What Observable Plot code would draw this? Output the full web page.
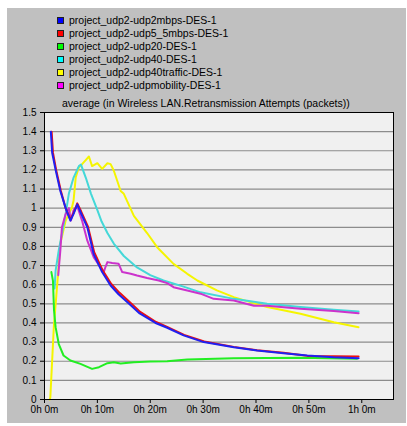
<!DOCTYPE html>
<html>
<head>
<meta charset="utf-8">
<script src="https://cdn.jsdelivr.net/npm/d3@7"></script>
<script src="https://cdn.jsdelivr.net/npm/@observablehq/plot@0.6"></script>
<style>
  html, body { margin: 0; padding: 0; background: #ffffff; }
  #page { position: relative; width: 407px; height: 426px; overflow: hidden; background: #ffffff; }
  #panel { position: absolute; left: 7px; top: 8px; width: 399px; height: 415px; background: #c0c0c0; }
  .lg { position: absolute; left: 69px; height: 13px; line-height: 13px; font: 10.5px "Liberation Sans", Arial, sans-serif; color: #000; white-space: nowrap; }
  .sw { position: absolute; left: 57px; width: 5px; height: 5px; border: 1px solid #202020; }
  #title { position: absolute; left: 62px; top: 97px; height: 13px; line-height: 13px; font: 10.5px "Liberation Sans", Arial, sans-serif; color: #000; white-space: nowrap; }
  #chart { position: absolute; left: 7px; top: 108px; }
</style>
</head>
<body>
<div id="page">
  <div id="panel"></div>
  <div id="legend"></div>
  <div id="title"></div>
  <div id="chart"></div>
</div>
<script>
// ---- data (minutes, packets) ----
const seriesNames = [
  "project_udp2-udp2mbps-DES-1",
  "project_udp2-udp5_5mbps-DES-1",
  "project_udp2-udp20-DES-1",
  "project_udp2-udp40-DES-1",
  "project_udp2-udp40traffic-DES-1",
  "project_udp2-udpmobility-DES-1"
];
const swatchColors = ["#0000ff", "#ff0000", "#00ff00", "#00ffff", "#ffff00", "#ff00ff"];
const lineColors   = ["#2020f0", "#ee1010", "#22ee22", "#44d8d8", "#f5f500", "#cc33cc"];

const udp2mbpsT = [1.2, 1.45, 2.1, 3.0, 4.0, 4.9, 5.5, 6.2, 6.8, 8.1, 9.3, 10.9, 12.5, 14.0, 16.0, 18.0, 21.0, 23.2, 26.3, 30.1, 35.8, 40.2, 45.2, 49.7, 54.7, 59.4];
const udp2mbpsV = [1.40, 1.29, 1.20, 1.09, 1.00, 0.935, 0.97, 1.02, 0.98, 0.90, 0.76, 0.666, 0.596, 0.55, 0.50, 0.45, 0.40, 0.375, 0.335, 0.30, 0.273, 0.256, 0.242, 0.23, 0.221, 0.216];

const udp55T = [1.35, 1.6, 2.2, 3.1, 4.0, 4.9, 5.5, 6.2, 6.9, 8.2, 9.4, 11.0, 12.6, 14.1, 16.1, 18.1, 21.1, 23.3, 26.4, 30.2, 35.8, 40.2, 45.2, 48.5, 49.7, 54.7, 59.4];
const udp55V = [1.40, 1.29, 1.20, 1.09, 1.00, 0.94, 0.975, 1.025, 0.985, 0.905, 0.77, 0.675, 0.605, 0.56, 0.51, 0.458, 0.405, 0.378, 0.338, 0.303, 0.275, 0.258, 0.244, 0.232, 0.228, 0.226, 0.225];

const udp20T = [1.3, 1.6, 1.8, 2.1, 2.7, 3.6, 4.9, 6.8, 9.0, 10.3, 11.9, 13.1, 14.4, 16.9, 20.0, 23.2, 27.0, 35.8, 48.4, 59.1];
const udp20V = [0.666, 0.62, 0.465, 0.378, 0.29, 0.23, 0.204, 0.186, 0.16, 0.169, 0.19, 0.195, 0.188, 0.195, 0.198, 0.2, 0.209, 0.216, 0.218, 0.213];

const udp40T = [1.9, 2.1, 2.7, 3.3, 4.0, 4.6, 5.5, 6.5, 6.9, 7.8, 8.8, 10.0, 10.8, 11.9, 13.1, 15.0, 17.5, 20.0, 22.5, 26.3, 29.5, 35.8, 42.1, 48.4, 54.7, 59.4];
const udp40V = [0.58, 0.674, 0.78, 0.867, 0.97, 1.075, 1.16, 1.22, 1.228, 1.16, 1.075, 0.99, 0.93, 0.87, 0.815, 0.75, 0.69, 0.65, 0.622, 0.59, 0.56, 0.526, 0.50, 0.483, 0.469, 0.46];

const udp40trafficT = [1.0, 1.1, 1.76, 2.4, 3.0, 4.0, 5.2, 5.5, 5.9, 6.5, 7.1, 7.75, 8.4, 9.0, 10.0, 10.9, 11.9, 12.5, 13.1, 14.4, 15.0, 16.9, 19.4, 21.3, 24.4, 27.0, 28.9, 32.6, 35.8, 38.9, 42.1, 48.4, 54.7, 59.4];
const udp40trafficV = [0, 0.01, 0.378, 0.6, 0.815, 0.935, 1.005, 1.04, 1.16, 1.214, 1.23, 1.25, 1.27, 1.22, 1.235, 1.205, 1.235, 1.23, 1.197, 1.09, 1.075, 0.96, 0.87, 0.796, 0.709, 0.657, 0.622, 0.57, 0.535, 0.509, 0.483, 0.448, 0.404, 0.378];

const udpmobilityT = [2.6, 3.0, 3.3, 4.0, 4.6, 5.0, 5.5, 6.2, 7.1, 8.1, 9.3, 10.6, 11.2, 11.5, 11.9, 12.8, 14.0, 14.7, 16.3, 17.5, 19.4, 21.6, 23.2, 24.4, 27.0, 29.5, 32.0, 35.8, 39.6, 42.1, 48.4, 54.7, 59.4];
const udpmobilityV = [0.65, 0.78, 0.9, 0.97, 1.0, 0.935, 0.99, 1.01, 0.935, 0.83, 0.744, 0.69, 0.666, 0.69, 0.718, 0.713, 0.71, 0.666, 0.657, 0.648, 0.635, 0.622, 0.608, 0.587, 0.57, 0.553, 0.526, 0.517, 0.49, 0.49, 0.474, 0.462, 0.451];

const yTicks = [0, 0.1, 0.2, 0.3, 0.4, 0.5, 0.6, 0.7, 0.8, 0.9, 1.0, 1.1, 1.2, 1.3, 1.4, 1.5];
const yTickLabels = ["0", "0.1", "0.2", "0.3", "0.4", "0.5", "0.6", "0.7", "0.8", "0.9", "1", "1.1", "1.2", "1.3", "1.4", "1.5"];
const xTicks = [0, 10, 20, 30, 40, 50, 60];
const xTickLabels = ["0h 0m", "0h 10m", "0h 20m", "0h 30m", "0h 40m", "0h 50m", "1h 0m"];
const titleText = "average (in Wireless LAN.Retransmission Attempts (packets))";

// ---- build ----
const seriesT = [udp2mbpsT, udp55T, udp20T, udp40T, udp40trafficT, udpmobilityT];
const seriesV = [udp2mbpsV, udp55V, udp20V, udp40V, udp40trafficV, udpmobilityV];
const table = [];
seriesNames.forEach((name, k) => {
  seriesT[k].forEach((t, i) => table.push({ s: name, t, v: seriesV[k][i] }));
});
// draw order (last on top)
const drawOrder = [4, 3, 2, 5, 1, 0];

// legend
const legend = document.getElementById("legend");
seriesNames.forEach((name, i) => {
  const sw = document.createElement("div");
  sw.className = "sw";
  sw.style.top = (17 + 13 * i) + "px";
  sw.style.background = swatchColors[i];
  legend.appendChild(sw);
  const tx = document.createElement("div");
  tx.className = "lg";
  tx.style.top = (14 + 13 * i) + "px";
  tx.textContent = name;
  legend.appendChild(tx);
});
document.getElementById("title").textContent = titleText;

const marks = [
  Plot.frame({ fill: "#f0f0f0" }),
  Plot.ruleY(yTicks.filter(d => d > 0 && d < 1.5), { stroke: "#8c8c8c", strokeWidth: 1.2 })
];
drawOrder.forEach(k => {
  marks.push(Plot.line(table.filter(d => d.s === seriesNames[k]), {
    x: "t", y: "v", stroke: lineColors[k], strokeWidth: 2, curve: "linear"
  }));
});
marks.push(Plot.frame({ stroke: "#000", strokeWidth: 1 }));
marks.push(Plot.axisY(yTicks, {
  tickSize: 4, tickPadding: 4, label: null,
  tickFormat: d => yTickLabels[Math.round(d * 10)]
}));
marks.push(Plot.axisX(xTicks, {
  tickSize: 4, tickPadding: 2, label: null,
  tickFormat: d => xTickLabels[xTicks.indexOf(d)]
}));

const chart = Plot.plot({
  width: 399,
  height: 315,
  marginTop: 4,
  marginLeft: 37,
  marginRight: 13,
  marginBottom: 24,
  x: { domain: [0, 66] },
  y: { domain: [0, 1.5] },
  style: { background: "transparent", overflow: "visible", fontFamily: "'Liberation Sans', Arial, sans-serif", fontSize: "10px", color: "#000" },
  marks
});
document.getElementById("chart").appendChild(chart);
</script>
</body>
</html>
